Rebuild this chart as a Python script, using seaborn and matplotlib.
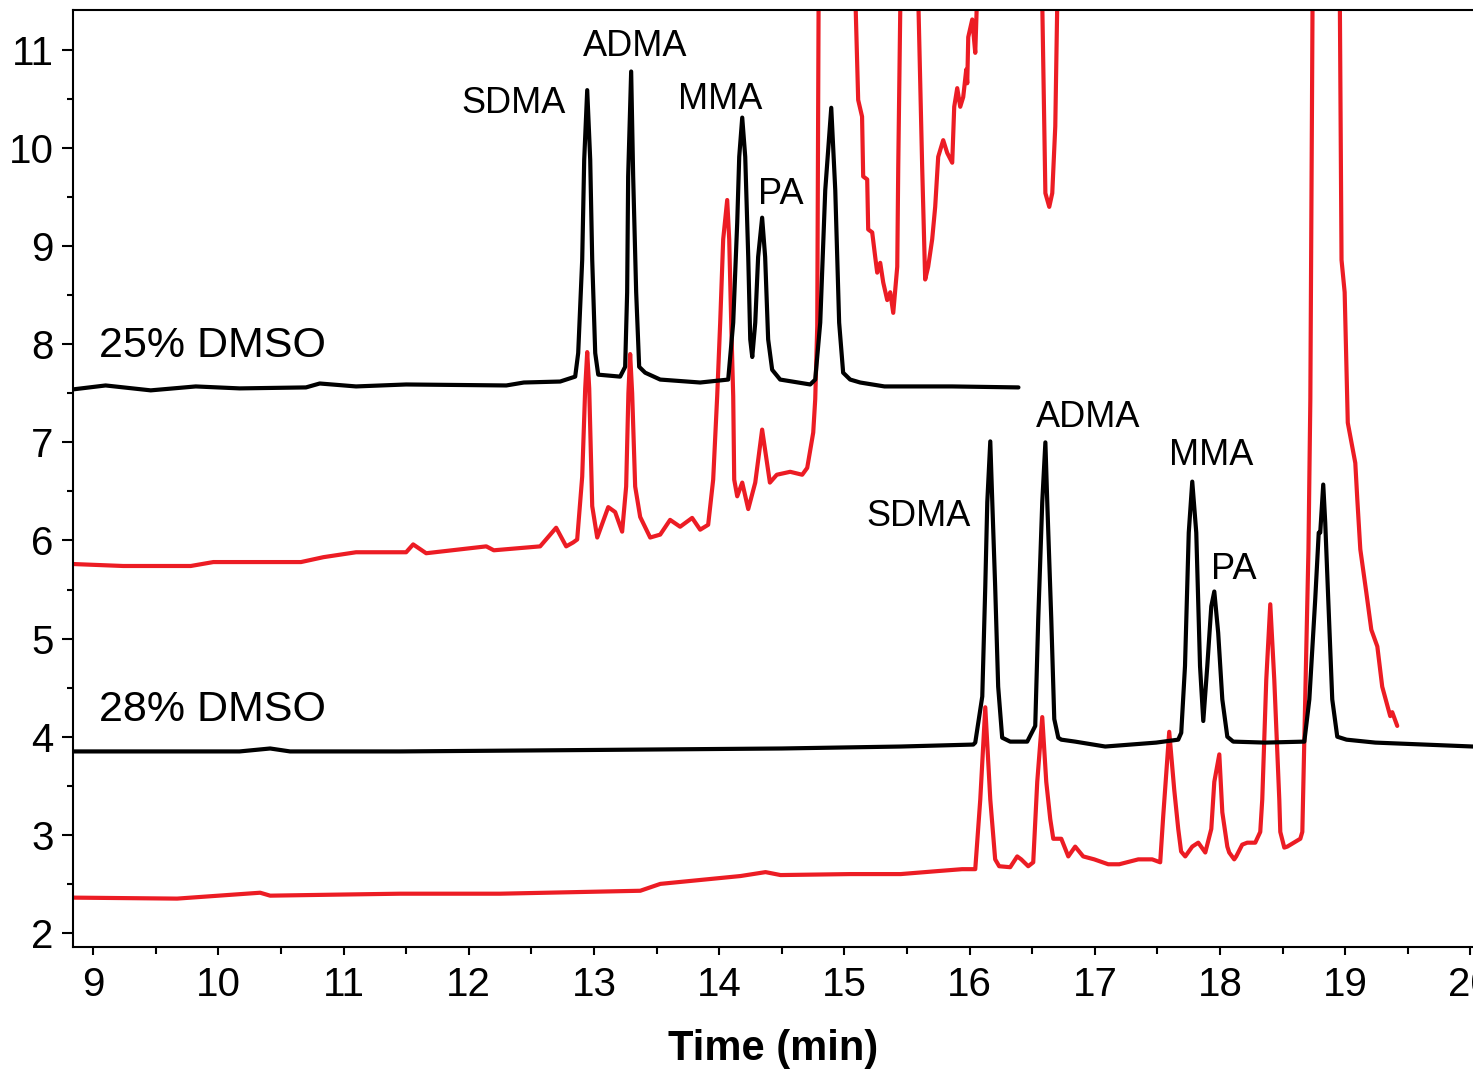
import matplotlib
matplotlib.use('Agg')
import matplotlib.pyplot as plt
import seaborn as sns
from matplotlib.ticker import MultipleLocator

# Electropherograms (time in min, signal offset per run)
# 25% DMSO, standards (black)
std25_t = [8.84, 9.10, 9.46, 9.82, 10.17, 10.70, 10.81, 11.10, 11.50, 12.30, 12.44, 12.73,
           12.85, 12.874, 12.906, 12.922, 12.946, 12.970, 12.986, 13.010, 13.034, 13.209,
           13.249, 13.265, 13.273, 13.297, 13.313, 13.337, 13.361, 13.409, 13.529, 13.848,
           14.072, 14.112, 14.144, 14.160, 14.184, 14.208, 14.232, 14.248, 14.264, 14.288,
           14.311, 14.343, 14.367, 14.391, 14.423, 14.487, 14.727, 14.767, 14.807, 14.847,
           14.895, 14.927, 14.958, 14.990, 15.046, 15.126, 15.32, 15.86, 16.39]
std25_y = [7.54, 7.58, 7.53, 7.57, 7.55, 7.56, 7.60, 7.57, 7.59, 7.58, 7.61, 7.62,
           7.67, 7.91, 8.86, 9.88, 10.59, 9.88, 8.86, 7.91, 7.69, 7.67,
           7.77, 8.53, 9.71, 10.78, 9.71, 8.53, 7.77, 7.71, 7.64, 7.61,
           7.64, 8.22, 9.24, 9.91, 10.31, 9.91, 8.89, 8.05, 7.87, 8.22,
           8.89, 9.29, 8.89, 8.05, 7.74, 7.64, 7.59, 7.64, 8.22, 9.57,
           10.41, 9.57, 8.22, 7.71, 7.64, 7.61, 7.57, 7.57, 7.56]

# 25% DMSO, sample (red)
smp25_t = [8.84, 9.24, 9.78, 9.96, 10.66, 10.84, 11.10, 11.50, 11.556, 11.66, 12.14, 12.20,
           12.57, 12.698, 12.778, 12.834, 12.866, 12.906, 12.930, 12.946, 12.962, 12.986,
           13.026, 13.114, 13.169, 13.225, 13.257, 13.275, 13.289, 13.305, 13.329, 13.369,
           13.449, 13.529, 13.608, 13.688, 13.784, 13.848, 13.912, 13.952, 13.984, 14.008,
           14.032, 14.064, 14.080, 14.096, 14.112, 14.120, 14.144, 14.184, 14.232, 14.288,
           14.343, 14.405, 14.460, 14.567, 14.663, 14.703, 14.751, 14.767, 14.783, 14.795,
           15.082, 15.110, 15.141, 15.150, 15.182, 15.190, 15.222, 15.246, 15.262, 15.286,
           15.310, 15.342, 15.366, 15.390, 15.422, 15.430, 15.450,
           15.585, 15.621, 15.645, 15.669, 15.701, 15.725, 15.749, 15.789, 15.821, 15.861,
           15.877, 15.901, 15.925, 15.949, 15.973, 15.981, 15.989, 16.021, 16.045, 16.066,
           16.576, 16.605, 16.636, 16.660, 16.684, 16.704]
smp25_y = [5.76, 5.74, 5.74, 5.78, 5.78, 5.83, 5.88, 5.88, 5.96, 5.87, 5.94, 5.90,
           5.94, 6.13, 5.94, 5.98, 6.01, 6.65, 7.55, 7.92, 7.55, 6.35,
           6.03, 6.34, 6.29, 6.09, 6.55, 7.50, 7.90, 7.50, 6.55, 6.24,
           6.03, 6.06, 6.21, 6.14, 6.23, 6.11, 6.16, 6.62, 7.47, 8.22,
           9.07, 9.47, 9.07, 8.22, 7.47, 6.62, 6.45, 6.59, 6.32, 6.59,
           7.13, 6.59, 6.67, 6.70, 6.67, 6.74, 7.10, 7.44, 8.18, 11.8,
           11.8, 10.49, 10.32, 9.71, 9.68, 9.17, 9.14, 8.89, 8.73, 8.83,
           8.63, 8.45, 8.53, 8.32, 8.79, 9.81, 11.8,
           11.8, 9.81, 8.66, 8.79, 9.07, 9.40, 9.91, 10.08, 9.95, 9.85,
           10.42, 10.61, 10.42, 10.52, 10.80, 10.66, 11.13, 11.31, 10.97, 11.8,
           11.8, 9.54, 9.40, 9.54, 10.22, 11.8]

# 28% DMSO, standards (black)
std28_t = [8.84, 10.17, 10.414, 10.573, 11.45, 12.50, 13.50, 14.50, 15.45, 16.029,
           16.045, 16.101, 16.125, 16.141, 16.165, 16.181, 16.204, 16.228, 16.260, 16.324,
           16.460, 16.524, 16.548, 16.580, 16.605, 16.620, 16.652, 16.676, 16.708, 16.732,
           16.843, 17.083, 17.490, 17.666, 17.69, 17.72, 17.75, 17.778, 17.81, 17.84,
           17.866, 17.898, 17.93, 17.954, 17.985, 18.018, 18.058, 18.105, 18.36, 18.673,
           18.713, 18.76, 18.788, 18.80, 18.824, 18.84, 18.864, 18.896, 18.936, 19.01,
           19.24, 20.02]
std28_y = [3.85, 3.85, 3.88, 3.85, 3.85, 3.86, 3.87, 3.88, 3.90, 3.92,
           3.94, 4.41, 5.53, 6.39, 7.01, 6.39, 5.53, 4.51, 3.99, 3.95,
           3.95, 4.11, 5.20, 6.39, 7.00, 6.39, 5.20, 4.18, 3.99, 3.97,
           3.95, 3.90, 3.94, 3.97, 4.04, 4.72, 6.08, 6.60, 6.08, 4.72,
           4.16, 4.72, 5.33, 5.48, 5.06, 4.38, 4.00, 3.95, 3.94, 3.95,
           4.38, 5.40, 6.08, 6.08, 6.57, 6.18, 5.40, 4.38, 4.00, 3.97,
           3.94, 3.90]

# 28% DMSO, sample (red)
smp28_t = [8.84, 9.671, 10.334, 10.414, 10.917, 11.452, 12.25, 13.37, 13.53, 13.85,
           14.17, 14.37, 14.49, 15.05, 15.45, 15.74, 15.94, 16.045, 16.085, 16.125,
           16.165, 16.204, 16.236, 16.324, 16.380, 16.412, 16.468, 16.508, 16.540, 16.580,
           16.612, 16.644, 16.668, 16.732, 16.788, 16.843, 16.907, 16.995, 17.107, 17.195,
           17.347, 17.458, 17.522, 17.546, 17.594, 17.634, 17.666, 17.689, 17.722, 17.778,
           17.826, 17.882, 17.930, 17.954, 17.994, 18.018, 18.058, 18.073, 18.113, 18.129,
           18.177, 18.217, 18.281, 18.321, 18.337, 18.369, 18.401, 18.433, 18.473, 18.481,
           18.513, 18.537, 18.641, 18.657, 18.673, 18.706, 18.721, 18.740,
           18.955, 18.970, 18.995, 19.020, 19.080, 19.096, 19.120, 19.168, 19.208, 19.256,
           19.295, 19.359, 19.375, 19.415]
smp28_y = [2.36, 2.35, 2.41, 2.38, 2.39, 2.40, 2.40, 2.43, 2.50, 2.54,
           2.58, 2.62, 2.59, 2.60, 2.60, 2.63, 2.65, 2.65, 3.36, 4.30,
           3.36, 2.75, 2.68, 2.67, 2.78, 2.75, 2.68, 2.72, 3.54, 4.20,
           3.54, 3.16, 2.96, 2.96, 2.78, 2.88, 2.78, 2.75, 2.70, 2.70,
           2.75, 2.75, 2.72, 3.19, 4.05, 3.46, 3.06, 2.83, 2.78, 2.88,
           2.92, 2.82, 3.06, 3.54, 3.82, 3.23, 2.88, 2.82, 2.75, 2.78,
           2.90, 2.92, 2.92, 3.03, 3.36, 4.58, 5.35, 4.58, 3.36, 3.03,
           2.87, 2.88, 2.96, 3.03, 3.97, 5.91, 7.44, 11.8,
           11.8, 8.86, 8.53, 7.20, 6.79, 6.42, 5.91, 5.47, 5.09, 4.92,
           4.51, 4.21, 4.25, 4.11]

peak_names = ['SDMA', 'ADMA', 'MMA', 'PA']
label25_x = [12.355, 13.33, 14.01, 14.49]
label25_y = [10.45, 11.03, 10.49, 9.53]
label28_x = [15.59, 16.95, 17.93, 18.11]
label28_y = [6.24, 7.25, 6.87, 5.70]

sns.set_theme(style='ticks')
plt.rcParams['font.family'] = ['Liberation Sans', 'DejaVu Sans']
plt.rcParams['text.color'] = 'black'
plt.rcParams['axes.labelcolor'] = 'black'
plt.rcParams['xtick.color'] = 'black'
plt.rcParams['ytick.color'] = 'black'

fig, ax = plt.subplots(figsize=(14.73, 10.71), dpi=100)
fig.subplots_adjust(left=0.0496, right=1.0, bottom=0.1158, top=0.9907)

red = '#ec1c24'
lw = 3.0
line_kw = dict(sort=False, lw=lw, solid_joinstyle='round', solid_capstyle='round', ax=ax)
sns.lineplot(x=smp25_t, y=smp25_y, color=red, **line_kw)
sns.lineplot(x=std25_t, y=std25_y, color='black', **line_kw)
sns.lineplot(x=smp28_t, y=smp28_y, color=red, **line_kw)
sns.lineplot(x=std28_t, y=std28_y, color='black', **line_kw)

for name, x, y in zip(peak_names, label25_x, label25_y):
    ax.text(x, y, name, fontsize=26, ha='center', va='center', color='black')
for name, x, y in zip(peak_names, label28_x, label28_y):
    ax.text(x, y, name, fontsize=26, ha='center', va='center', color='black')
ax.text(9.05, 7.98, '25% DMSO', fontsize=31, ha='left', va='center', color='black')
ax.text(9.05, 4.27, '28% DMSO', fontsize=31, ha='left', va='center', color='black')

ax.set_xlim(8.84, 20.02)
ax.set_ylim(1.857, 11.407)
ax.xaxis.set_major_locator(MultipleLocator(1))
ax.xaxis.set_minor_locator(MultipleLocator(0.5))
ax.yaxis.set_major_locator(MultipleLocator(1))
ax.yaxis.set_minor_locator(MultipleLocator(0.5))
ax.tick_params(axis='both', which='both', colors='black', labelcolor='black')
ax.tick_params(axis='both', which='major', labelsize=29, width=1.5)
ax.tick_params(axis='x', which='major', length=6, pad=8)
ax.tick_params(axis='x', which='minor', length=5, width=1.5)
ax.tick_params(axis='y', which='major', length=8, pad=6)
ax.tick_params(axis='y', which='minor', length=4, width=1.5)
ax.set_xlabel('Time (min)', fontsize=30, fontweight='bold', labelpad=18, color='black')
ax.set_ylabel('')
ax.spines['right'].set_visible(False)
for s in ['left', 'bottom', 'top']:
    ax.spines[s].set_linewidth(1.5)
    ax.spines[s].set_color('black')

fig.savefig('out.png', dpi=100)
